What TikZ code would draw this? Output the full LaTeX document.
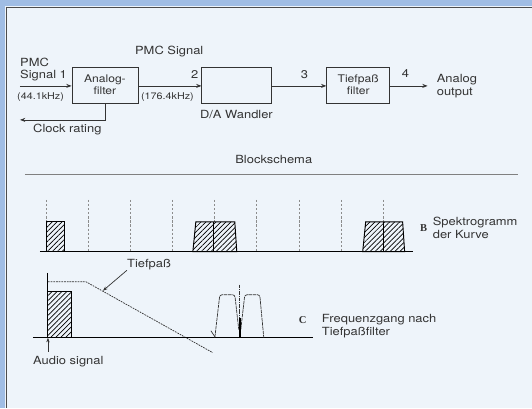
\documentclass[tikz,border=0pt]{standalone}
\usepackage{fontspec}
\setmainfont{TeX Gyre Heros}[FakeStretch=1.15]
\newfontfamily\letterfont{Liberation Serif}
\usetikzlibrary{arrows.meta,patterns.meta}
\definecolor{paper}{HTML}{EEF4FA}
\definecolor{framebl}{HTML}{A0BDE4}
\definecolor{ink}{HTML}{333333}

\begin{document}
\begin{tikzpicture}[x=0.03cm,y=-0.03cm]
\tikzset{
  blockbox/.style={draw=ink,line width=0.6pt,minimum width=#1,minimum height=1.08cm,align=center,inner sep=1pt,text=ink,font=\fontsize{9}{10}\selectfont},
  sigline/.style={draw=ink,line width=0.6pt,-{Stealth[length=1.6mm,width=1.2mm]}},
  plainline/.style={draw=ink,line width=0.6pt},
  txt/.style={inner sep=0pt,anchor=west,align=left,text=ink,font=\fontsize{9.6}{11}\selectfont},
  smalltxt/.style={txt,font=\fontsize{8}{9}\selectfont},
  letter/.style={inner sep=0pt,text=ink,font=\letterfont\bfseries\fontsize{9}{10}\selectfont},
  gridline/.style={draw=black!45,line width=0.5pt,dash pattern=on 2pt off 1.5pt},
  hatchbox/.style={draw=black,line width=0.8pt,preaction={fill=paper},pattern={Lines[angle=45,distance=3pt,line width=0.6pt]}},
  curveline/.style={draw=ink,line width=0.6pt,dash pattern=on 1.5pt off 0.8pt},
  pulseline/.style={draw=ink,line width=0.6pt,dash pattern=on 3pt off 0.6pt,rounded corners=2pt}
}
% paper and frame
\fill[paper] (0,0) rectangle (532,408);
\fill[framebl] (0,0) rectangle (532,6);
\fill[framebl] (0,0) rectangle (5,408);
\draw[black!70,line width=0.8pt] (6,408) -- (6,7) -- (532,7);

% block chain
\node[blockbox=1.98cm] (n_analog) at (105,85) {Analog-\\filter};
\node[blockbox=2.1cm] (n_da) at (237,85) {};
\node[blockbox=1.89cm] (n_tief) at (358.5,85) {Tiefpaß\\filter};
\coordinate (c_in) at (20,86);
\coordinate (c_out) at (428,86);
\coordinate (c_clock) at (20,120);

\draw[sigline] (c_in) -- (n_analog.west |- c_in);
\draw[sigline] (n_analog.east |- c_in) -- (n_da.west |- c_in);
\draw[sigline] (n_da.east |- c_in) -- (n_tief.west |- c_in);
\draw[sigline] (n_tief.east |- c_in) -- (c_out);
\draw[sigline] (n_analog.south) |- (c_clock);

\node[txt] (n_pmc) at (20,62) {PMC};
\node[txt] (n_sig1) at (20,76) {Signal 1};
\node[smalltxt] (n_f44) at (17,97) {(44.1kHz)};
\node[txt] (n_pmcsig) at (135,52) {PMC Signal};
\node[txt] (n_two) at (191,75) {2};
\node[smalltxt] (n_f176) at (141,97) {(176.4kHz)};
\node[txt] (n_wandler) at (200,115) {D/A Wandler};
\node[txt] (n_three) at (301,75) {3};
\node[txt] (n_four) at (402,74) {4};
\node[txt] (n_output) at (437,86) {Analog\\output};
\node[txt] (n_clock) at (33,130) {Clock rating};
\node[txt,anchor=center] (n_schema) at (274,160) {Blockschema};
\draw[black!50,line width=0.5pt] (25,174) -- (518,174);

% spectrogram B
\foreach \gx in {46,88,130,172,214,257,300,342,384}
  \draw[gridline] (\gx,200) -- (\gx,252);
\draw[hatchbox] (47,222) rectangle (65,252);
\draw[hatchbox] (193,252) -- (196,222) -- (235,222) -- (237,252) -- cycle;
\draw[line width=0.8pt] (214,222) -- (214,252);
\draw[hatchbox] (363,252) -- (366,222) -- (403,222) -- (405,252) -- cycle;
\draw[line width=0.8pt] (384,222) -- (384,252);
\draw[black,line width=0.8pt] (40,252) -- (413,252);
\node[letter] (n_b) at (424,228) {B};
\node[txt] (n_spek) at (433,228) {Spektrogramm\\der Kurve};

% frequency response C
\draw[black,line width=0.8pt] (48,273) -- (48,338);
\draw[hatchbox] (48,292) rectangle (72,338);
\draw[curveline] (48,282) -- (86,282) -- (213,353);
\draw[black,line width=0.8pt] (33,338) -- (313,338);
\node[txt] (n_tp) at (127,265) {Tiefpaß};
\coordinate (c_tp) at (103,291);
\draw[plainline,-{Stealth[length=1.4mm,width=1mm]}] (n_tp.south west) -- (c_tp);
\coordinate (c_audio) at (48,352);
\coordinate (c_orig) at (48,338);
\draw[plainline,-{Stealth[length=1.4mm,width=1mm]}] (c_audio) -- (c_orig);
\node[txt] (n_audio) at (33,362) {Audio signal};

\draw[pulseline] (215,338) -- (220,295) -- (235,295) -- (239,330);
\draw[pulseline] (241,330) -- (245,295) -- (260,295) -- (264,338);
\draw[ink,line width=0.5pt,dash pattern=on 3pt off 1pt on 0.5pt off 1pt] (240,285) -- (240,318);
\draw[black,line width=1.6pt] (240,318) -- (240,338);
\draw[plainline] (211,331) -- (215,337);
\node[letter] (n_c) at (303,320) {C};
\node[txt] (n_freq) at (322,326) {Frequenzgang nach\\Tiefpaßfilter};
\end{tikzpicture}
\end{document}
